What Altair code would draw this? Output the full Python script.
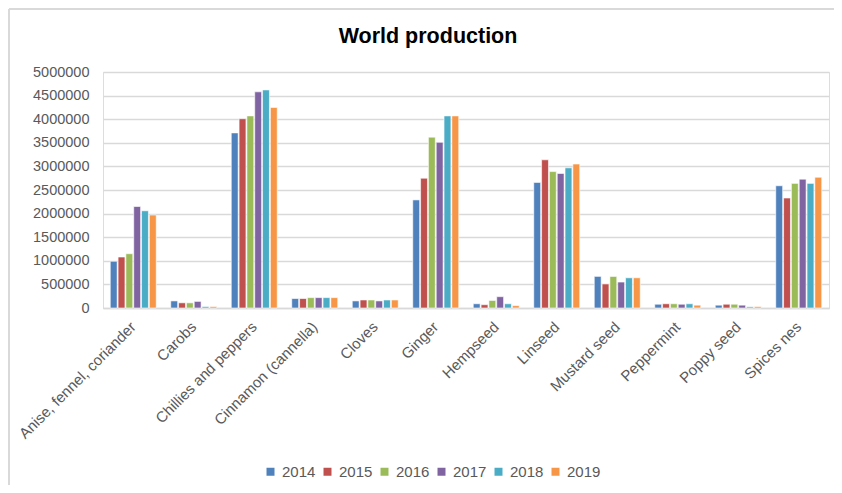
import altair as alt
import pandas as pd

categories = ["Anise, fennel, coriander", "Carobs", "Chillies and peppers",
              "Cinnamon (cannella)", "Cloves", "Ginger", "Hempseed", "Linseed",
              "Mustard seed", "Peppermint", "Poppy seed", "Spices nes"]
years = ["2014", "2015", "2016", "2017", "2018", "2019"]

v2014 = [990000, 150000, 3710000, 200000, 150000, 2290000, 90000, 2660000, 670000, 80000, 60000, 2590000]
v2015 = [1080000, 110000, 4010000, 200000, 170000, 2750000, 70000, 3140000, 510000, 90000, 80000, 2330000]
v2016 = [1150000, 110000, 4070000, 220000, 170000, 3620000, 160000, 2890000, 670000, 90000, 80000, 2640000]
v2017 = [2150000, 140000, 4580000, 220000, 150000, 3510000, 240000, 2850000, 550000, 80000, 60000, 2730000]
v2018 = [2060000, 30000, 4620000, 220000, 170000, 4070000, 90000, 2970000, 640000, 90000, 25000, 2640000]
v2019 = [1970000, 30000, 4250000, 220000, 170000, 4070000, 50000, 3050000, 640000, 60000, 30000, 2770000]

colors = ["#4F81BD", "#C0504D", "#9BBB59", "#8064A2", "#4BACC6", "#F79646"]

series = [v2014, v2015, v2016, v2017, v2018, v2019]
rows = []
for y, vals in zip(years, series):
    for c, v in zip(categories, vals):
        rows.append({"Category": c, "Year": y, "Value": v})
df = pd.DataFrame(rows)

W, H = 726, 236
PL, PT, PR, PB = 95, 64, 5, 177
FONT = "Liberation Sans"
GREY = "#595959"

bars = alt.Chart(df).mark_bar(stroke="white", strokeWidth=0.6).encode(
    x=alt.X("Category:N", sort=categories,
            scale=alt.Scale(paddingInner=0.24, paddingOuter=0.12),
            axis=alt.Axis(title=None, labelAngle=-45, ticks=False,
                          labelAlign="right", labelBaseline="middle",
                          labelFontSize=15, labelColor=GREY, labelFont=FONT,
                          domainColor="#d9d9d9", domainWidth=1.5, labelPadding=16,
                          labelLimit=300)),
    xOffset=alt.XOffset("Year:N", scale=alt.Scale(paddingInner=0.12)),
    y=alt.Y("Value:Q", scale=alt.Scale(domain=[0, 5000000], nice=False),
            axis=alt.Axis(title=None, values=list(range(0, 5000001, 500000)),
                          format="d", ticks=False, domain=False,
                          labelFontSize=14.5, labelColor=GREY, labelFont=FONT,
                          labelPadding=14, gridColor="#d9d9d9", gridWidth=1.5)),
    color=alt.Color("Year:N", scale=alt.Scale(domain=years, range=colors),
                    legend=alt.Legend(title=None, orient="none", direction="horizontal",
                                      legendX=160, legendY=392,
                                      symbolType="square", symbolSize=64,
                                      symbolStrokeWidth=0, labelFontSize=15,
                                      labelFont=FONT, labelColor=GREY,
                                      columnPadding=4, labelOffset=4)),
)

title_df = pd.DataFrame({"t": ["World production"]})
title = alt.Chart(title_df).mark_text(
    fontSize=21.5, fontWeight="bold", font=FONT, color="black", align="center", baseline="middle"
).encode(x=alt.value(428 - 103), y=alt.value(37 - 72), text="t:N")

border_top = alt.Chart(title_df).mark_rule(color="#d9d9d9", strokeWidth=2).encode(
    x=alt.value(-PL + 1), x2=alt.value(W + PR), y=alt.value(-PT + 1))
border_left = alt.Chart(title_df).mark_rule(color="#d9d9d9", strokeWidth=2).encode(
    x=alt.value(-PL + 1), y=alt.value(-PT + 1), y2=alt.value(H + PB))

chart = alt.layer(border_top, border_left, bars, title).properties(
    width=W, height=H,
    autosize=alt.AutoSizeParams(type="none"),
    padding={"left": PL, "top": PT, "right": PR, "bottom": PB},
).configure_view(stroke=None).configure(background="white")

chart.save("out.html", embed_options={"renderer": "svg", "actions": False})
